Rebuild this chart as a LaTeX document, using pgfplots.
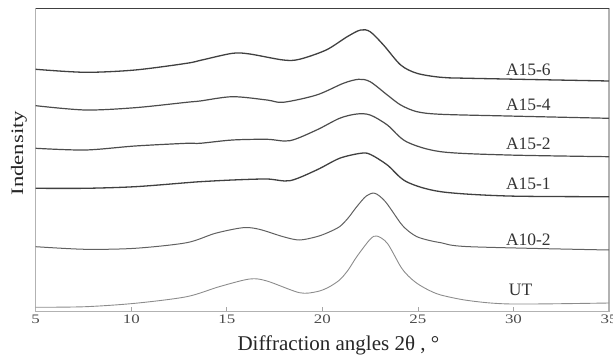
\documentclass[border=0pt]{standalone}
\usepackage{fontspec}
\setmainfont{Liberation Serif}
\usepackage{pgfplots}
\pgfplotsset{compat=1.18}
\begin{document}
\begin{tikzpicture}
\begin{axis}[
  at={(35.7pt,44.3pt)}, anchor=south west,
  scale only axis, width=573.3pt, height=303.2pt,
  xmin=5, xmax=35, ymin=0.3, ymax=303.5,
  xtick={5,10,...,35}, ytick=\empty,
  tick align=inside, xtick pos=lower,
  major tick length=5pt,
  tick style={gray!70, line width=0.8pt},
  axis line style={gray!60, line width=1.2pt},
  /pgf/number format/assume math mode=true,
  xticklabel={\scalebox{1.3}[1]{\pgfmathprintnumber{\tick}}},
  xticklabel style={font=\fontsize{13}{13}\selectfont, text=black!70},
  xlabel={Diffraction angles 2θ , °},
  xlabel style={font=\fontsize{21}{21}\selectfont, text=black!85, at={(axis description cs:0.528,-0.1105)}, anchor=center},
  ylabel={\scalebox{1.3}[1]{Indensity}},
  ylabel style={font=\fontsize{17.5}{17.5}\selectfont, text=black!85, at={(axis description cs:-0.0291,0.523)}, anchor=center},
  clip=false,
]
% A15-6
\addplot[black!75, line width=1.3pt, smooth] coordinates {
(5,242.7) (7.6,239.7) (10.2,242) (12.9,248.7) (13.7,252) (15.3,258.7) (16.2,258) (17.95,252) (18.8,252.7) (20.2,262) (21.3,275.3) (22.0,282) (22.5,280.3) (23.2,267) (24.1,247) (24.95,238.7) (26.2,234.7) (27.7,233.7) (35,231)};
% A15-4
\addplot[black!70, line width=1.2pt, smooth] coordinates {
(5,206.3) (7.6,202) (10.2,204.3) (12.9,209.7) (13.6,211) (15.3,215.3) (17.1,212) (17.95,209.7) (19.7,217) (21.1,228.7) (21.9,232.7) (22.5,230.3) (23.4,217) (24.1,207) (24.95,200.3) (26.2,197.7) (29.7,196) (35,193.7)};
% A15-2
\addplot[black!70, line width=1.2pt, smooth] coordinates {
(5,163.7) (7.6,162) (10.2,166) (12.9,168.7) (13.6,168.7) (15.3,172) (17.1,172.7) (18.3,171.3) (19.7,182) (20.9,193.7) (21.8,198) (22.5,197) (23.4,187) (24.4,170.3) (26.2,160.3) (29.7,157) (35,155.3)};
% A15-1
\addplot[black!75, line width=1.3pt, smooth] coordinates {
(5,123.7) (7.6,123.7) (10.2,125.3) (12.9,129.3) (13.6,130.3) (15.3,132) (17.1,133) (18.3,131.3) (19.7,142) (20.9,153.7) (22.0,158.7) (22.5,157.7) (23.4,147) (24.4,130.3) (26.2,120.3) (29.7,116) (35,115.3)};
% A10-2
\addplot[black!62, line width=1.0pt, smooth] coordinates {
(5,65.3) (7.6,62.7) (10.2,63.7) (12.9,69.3) (14.4,78.7) (15.85,84.3) (16.7,82.7) (17.95,75.3) (18.8,72) (19.7,75.3) (20.3,79.5) (20.9,85.3) (21.35,94) (21.8,105.3) (22.3,116) (22.75,118.7) (23.3,110.3) (24.1,88.7) (24.5,81) (24.95,75.3) (25.5,72) (26.2,69.3) (27.7,65.3) (35,62)};
% UT
\addplot[black!45, line width=0.9pt, smooth] coordinates {
(5,4.7) (7.6,5.3) (10.2,8.7) (12.9,15.3) (14.6,25.3) (16.2,33) (17.1,31) (18.8,19.3) (19.7,20.3) (20.3,24.5) (20.9,32) (21.35,42) (21.8,55.3) (22.5,72.7) (22.85,76) (23.4,68.7) (24.1,45.3) (24.5,36) (24.95,28.7) (25.5,22.5) (26.2,17) (27.7,11.3) (29.9,8) (35,9)};
\draw[black!75, line width=1.2pt] (rel axis cs:0,1) -- (rel axis cs:1,1);
\begin{scope}[every node/.style={font=\fontsize{17.5}{17.5}\selectfont, text=black!80, anchor=west, inner sep=0pt}]
\node at (axis cs:29.6,242) {A15-6};
\node at (axis cs:29.6,207) {A15-4};
\node at (axis cs:29.6,168) {A15-2};
\node at (axis cs:29.6,128) {A15-1};
\node at (axis cs:29.6,72) {A10-2};
\node at (axis cs:29.75,22) {UT};
\end{scope}
\end{axis}
\pgfresetboundingbox
\useasboundingbox (0,0) rectangle (613pt,356pt);
\end{tikzpicture}
\end{document}
